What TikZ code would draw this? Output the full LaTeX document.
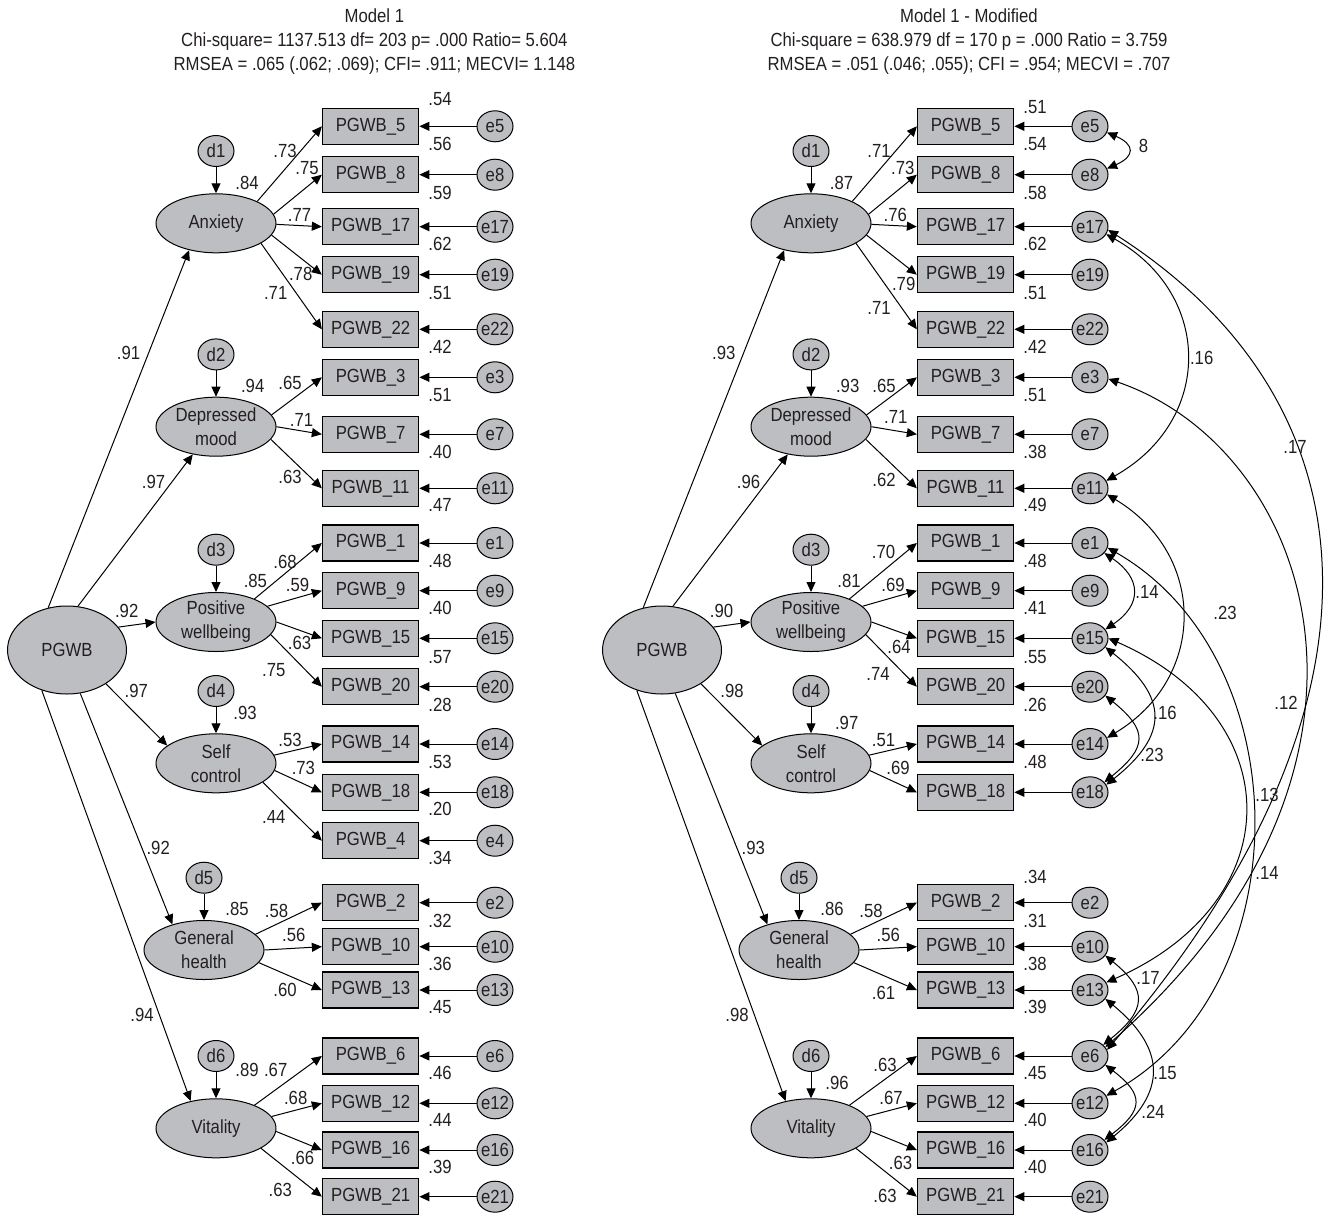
\documentclass[tikz,border=0pt]{standalone}
\usepackage{fontspec}
\setmainfont{Liberation Sans}[FakeStretch=0.88]
\usetikzlibrary{shapes.geometric,arrows.meta}
\definecolor{amosfill}{RGB}{189,190,193}
\definecolor{amosink}{RGB}{35,31,32}
\tikzset{%
    every node/.style={font=\fontsize{9.5}{12}\selectfont,text=amosink},
    obs/.style={shape=rectangle,draw,line width=0.75pt,fill=amosfill,minimum width=48pt,minimum height=18pt,inner sep=0pt},
    lat/.style={shape=ellipse,draw,line width=0.5pt,fill=amosfill,minimum width=60pt,minimum height=29.5pt,inner sep=0pt,align=center},
    res/.style={shape=ellipse,draw,line width=0.5pt,fill=amosfill,minimum width=18pt,minimum height=15.5pt,inner sep=0pt,inner xsep=-1.5pt},
    coef/.style={inner sep=0pt},
    effect/.style={->,line width=0.5pt},
    cov/.style={<->,line width=0.5pt},
}

\begin{document}
\begin{tikzpicture}[x=0.5pt,y=-0.5pt,>={Triangle[length=5pt,width=4.5pt]}]
        \useasboundingbox (0,0) rectangle (1328,1215);

        \node[align=center] (titleL) at (374.4,41.7) {Model 1\\Chi-square= 1137.513 df= 203 p= .000 Ratio= 5.604\\RMSEA = .065 (.062; .069); CFI= .911; MECVI= 1.148};
        \node[align=center] (titleR) at (969,41.7) {Model 1 - Modified\\Chi-square = 638.979 df = 170 p = .000 Ratio = 3.759\\RMSEA = .051 (.046; .055); CFI = .954; MECVI = .707};

        \foreach \m/\dx in {L/0,R/595}{
          \node[lat,minimum width=59.5pt,minimum height=44pt] (\m pgwb) at (\dx+67,650) {PGWB};
          \foreach \v/\x/\y/\txt/\k/\a/\b in {anx/216/223.3/Anxiety/1/114/225,
              dep/216/426.7/{Depressed\\mood}/2/76/230,
              pos/216/622/{Positive\\wellbeing}/3/24/180,
              sel/216/763.3/{Self\\control}/4/319/160,
              gen/204/950/{General\\health}/5/287/141,
              vit/216/1128.3/Vitality/6/238/133}{
            \node[lat] (\m\v) at (\dx+\x,\y) {\txt};
            \node[res] (\m d\k) at (\dx+\x,\y-72.3) {d\k};
            \draw[effect] (\m d\k) -- (\m\v);
            \draw[effect] (\m pgwb.\a) -- (\m\v.\b);
          }
        }

        % Model 1
        \foreach \n/\y/\r/\ry in {5/126.3/.54/99.3, 8/174.7/.56/144, 17/226.7/.59/193, 19/274.7/.62/244,
            22/329.3/.51/293, 3/377.3/.42/346.7, 7/434.3/.51/395, 11/488.3/.40/451.7, 1/543/.47/505,
            9/590.7/.48/561, 15/638.3/.40/608.3, 20/686.7/.57/656.7, 14/744/.28/705, 18/792.3/.53/761.7,
            4/840.7/.20/809.3, 2/902.7/.34/858.3, 10/946.7/.32/920.7, 13/990/.36/964, 6/1056/.45/1007.3,
            12/1103.3/.46/1073.3, 16/1150/.44/1120, 21/1196.7/.39/1166.7}{
          \node[obs] (L\n) at (370.6,\y) {PGWB\_\n};
          \node[res] (Le\n) at (495,\y) {e\n};
          \node[coef] (Lr\n) at (440,\ry) {\r};
          \draw[effect] (Le\n) -- (L\n);
        }
        \foreach \n/\v/\a/\w/\x/\y in {5/anx/28/.73/285/150.7, 8/anx/9/.75/307/168.3, 17/anx/-1/.77/299.5/215,
            19/anx/-12/.78/300.7/274, 22/anx/-24/.71/275.7/292.7, 3/dep/12/.65/290/383.3, 7/dep/0/.71/301.5/420,
            11/dep/-13/.63/290/477.3, 1/pos/31/.68/285/561.7, 9/pos/17/.59/297.6/585, 15/pos/0/.63/299.5/643.3,
            20/pos/-13/.75/273.8/670, 14/sel/8/.53/290/740, 18/sel/-7/.73/303.4/767.7, 4/sel/-22/.44/273.8/816.7,
            2/gen/17/.58/276.5/910.7, 10/gen/0/.56/293.8/935, 13/gen/-13/.60/285/990, 6/vit/31/.67/275.7/1070,
            12/vit/12/.68/295.7/1098.3, 16/vit/-3/.66/302.6/1158.3, 21/vit/-24/.63/280.3/1190}{
          \draw[effect] (L\v.\a) -- (L\n.west);
          \node[coef] (Lw\n) at (\x,\y) {\w};
        }
        \foreach \k/\w/\x/\y in {1/.91/128.6/353.3, 2/.97/153.6/481.7, 3/.92/126.7/610.7, 4/.97/136.3/690.7,
            5/.92/158.2/848.3, 6/.94/142/1015}
          \node[coef] (Lg\k) at (\x,\y) {\w};
        \foreach \k/\w/\x/\y in {1/.84/247/183.3, 2/.94/252.7/386, 3/.85/255.4/581, 4/.93/245/713.3,
            5/.85/237/909, 6/.89/247/1070}
          \node[coef] (Lz\k) at (\x,\y) {\w};

        % Model 1 - Modified
        \foreach \n/\y/\r/\ry in {5/126.3/.51/107.3, 8/174.7/.54/144.3, 17/226.7/.58/192.7, 19/274.7/.62/244.3,
            22/329.3/.51/292.7, 3/377.3/.42/346.7, 7/434.3/.51/395, 11/488.3/.38/451.7, 1/543/.49/505,
            9/590.7/.48/561, 15/638.3/.41/608.3, 20/686.7/.55/656.7, 14/744/.26/705, 18/792.3/.48/761.7,
            2/902.7/.34/876.7, 10/946.7/.31/920.7, 13/990/.38/964, 6/1056/.39/1007.3, 12/1103.3/.45/1073.3,
            16/1150/.40/1120, 21/1196.7/.40/1166.7}{
          \node[obs] (R\n) at (965.6,\y) {PGWB\_\n};
          \node[res] (Re\n) at (1090,\y) {e\n};
          \node[coef] (Rr\n) at (1035,\ry) {\r};
          \draw[effect] (Re\n) -- (R\n);
        }
        \foreach \n/\v/\a/\w/\x/\y in {5/anx/28/.71/879/150.7, 8/anx/9/.73/902.8/168.3, 17/anx/-1/.76/895.3/215,
            19/anx/-12/.79/903.7/284, 22/anx/-24/.71/879/308.3, 3/dep/12/.65/884/386, 7/dep/0/.71/895.8/416.7,
            11/dep/-13/.62/884/480, 1/pos/31/.70/883.6/552.3, 9/pos/17/.69/893/585, 15/pos/0/.64/899/646.7,
            20/pos/-13/.74/878/674, 14/sel/8/.51/883.6/740, 18/sel/-7/.69/898/767.7, 2/gen/17/.58/871/910.7,
            10/gen/0/.56/888.3/935, 13/gen/-13/.61/883.6/992.7, 6/vit/31/.63/885/1065, 12/vit/12/.67/891/1098.3,
            16/vit/-3/.63/900.5/1163.3, 21/vit/-24/.63/885/1196}{
          \draw[effect] (R\v.\a) -- (R\n.west);
          \node[coef] (Rw\n) at (\x,\y) {\w};
        }
        \foreach \k/\w/\x/\y in {1/.93/723.8/353.3, 2/.96/748.6/481.7, 3/.90/721.5/610.7, 4/.98/732/690.7,
            5/.93/753.3/848.3, 6/.98/737/1015}
          \node[coef] (Rg\k) at (\x,\y) {\w};
        \foreach \k/\w/\x/\y in {1/.87/841.6/183.3, 2/.93/847.7/386, 3/.81/849/581, 4/.97/846.7/723.3,
            5/.86/832/909, 6/.96/837/1082.7}
          \node[coef] (Rz\k) at (\x,\y) {\w};

        \draw[cov] (Re5.-20) .. controls +(28,12) and +(28,-12) .. (Re8.20);
        \draw[cov] (Re17.-25) .. controls +(107,60) and +(107,-60) .. (Re11.25);
        \draw[cov] (Re17.-10) .. controls +(268,171) and +(300,-350) .. (Re6.20);
        \draw[cov] (Re3.-5) .. controls +(205,70) and +(318,-280) .. (Re6.30);
        \draw[cov] (Re1.-15) .. controls +(192,110) and +(197,-110) .. (Re12.25);
        \draw[cov] (Re15.0) .. controls +(183,80) and +(183,-80) .. (Re13.25);
        \draw[cov] (Re11.-20) .. controls +(100,60) and +(100,-60) .. (Re14.20);
        \draw[cov] (Re1.-35) .. controls +(37,25) and +(37,-25) .. (Re15.30);
        \draw[cov] (Re15.-30) .. controls +(63,50) and +(63,-50) .. (Re18.25);
        \draw[cov] (Re20.-30) .. controls +(43,35) and +(43,-35) .. (Re18.35);
        \draw[cov] (Re10.-30) .. controls +(43,35) and +(43,-35) .. (Re6.40);
        \draw[cov] (Re13.-30) .. controls +(61,50) and +(61,-50) .. (Re16.25);
        \draw[cov] (Re6.-30) .. controls +(39,30) and +(39,-30) .. (Re16.35);
        \foreach \k/\w/\x/\y in {1/8/1143.5/145.7, 2/.16/1201.7/358, 3/.17/1295/446.7, 4/.12/1286/703,
            5/.14/1267/873, 6/.13/1267/795, 7/.23/1225/613, 8/.14/1147/592, 9/.16/1165/713, 10/.23/1152/755,
            11/.17/1148/978, 12/.15/1165/1073, 13/.24/1153/1112}
          \node[coef] (c\k) at (\x,\y) {\w};
      \end{tikzpicture}
\end{document}
